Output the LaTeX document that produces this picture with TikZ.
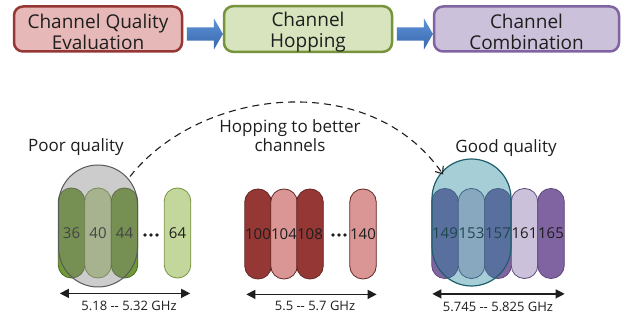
\documentclass[tikz,border=0pt]{standalone}
\usepackage{fontspec}
\setmainfont{Open Sans}
\usetikzlibrary{arrows.meta,shapes.arrows,calc}

\definecolor{txt}{HTML}{1E1E1E}
\definecolor{redbox}{HTML}{E6B9B8}
\definecolor{redline}{HTML}{953735}
\definecolor{greenbox}{HTML}{D7E4BD}
\definecolor{greenline}{HTML}{77933C}
\definecolor{purplebox}{HTML}{CCC1DA}
\definecolor{purpleline}{HTML}{8064A2}
\definecolor{arrtop}{HTML}{5E93D6}
\definecolor{arrbot}{HTML}{3866AE}
\definecolor{gdark}{HTML}{709A35}
\definecolor{glight}{HTML}{C3D69B}
\definecolor{gedge}{HTML}{4F6228}
\definecolor{rdark}{HTML}{953735}
\definecolor{rlight}{HTML}{D99694}
\definecolor{redge}{HTML}{632523}
\definecolor{pdark}{HTML}{8064A2}
\definecolor{plight}{HTML}{CCC1DA}
\definecolor{pedge}{HTML}{5F497A}
\definecolor{grayveil}{HTML}{7F7F7F}
\definecolor{grayedge}{HTML}{595959}
\definecolor{tealveil}{HTML}{208498}
\definecolor{tealedge}{HTML}{1F5F6B}

\newcommand{\dd}{-{}-}

\begin{document}
\begin{tikzpicture}[x=1pt,y=-1pt,
  topbox/.style={draw, line width=2.5pt, rounded corners=9pt, minimum height=45pt,
    inner sep=0pt, align=center, text=txt, font=\fontsize{19}{21}\selectfont},
  flowarrow/.style={single arrow, draw=none, minimum height=36pt,
    inner xsep=0pt, inner ysep=6.5pt,
    single arrow head extend=9pt, single arrow tip angle=120,
    top color=arrtop, bottom color=arrbot},
  pill/.style={draw, line width=0.8pt, rounded corners=13pt, minimum width=26.5pt,
    minimum height=90pt, inner sep=0pt, text=txt, font=\fontsize{15}{15}\selectfont},
  gpillD/.style={pill, fill=gdark, draw=gedge},
  gpillL/.style={pill, fill=glight, draw=greenline},
  rpillD/.style={pill, fill=rdark, draw=redge},
  rpillL/.style={pill, fill=rlight, draw=redge},
  ppillD/.style={pill, fill=pdark, draw=pedge},
  ppillL/.style={pill, fill=plight, draw=pedge},
  veil/.style={rounded corners=39.5pt, minimum width=79pt, inner sep=0pt},
  lbl/.style={text=txt, align=center, inner sep=0pt, font=\fontsize{17}{19}\selectfont},
  freq/.style={text=txt, inner sep=0pt, font=\fontsize{13}{13}\selectfont},
  span/.style={{Triangle[length=9pt,width=9pt]}-{Triangle[length=9pt,width=9pt]}, line width=1.3pt, txt},
  dot/.style={fill=txt}
]
\useasboundingbox (0,0) rectangle (630,320);

% process flow along the top
\node[topbox, fill=redbox, draw=redline, minimum width=168pt] (b1) at (98,29)
  {\rule{0pt}{20pt}Channel Quality\\Evaluation};
\node[topbox, fill=greenbox, draw=greenline, minimum width=168pt] (b2) at (308,29)
  {\rule{0pt}{20pt}Channel\\Hopping};
\node[topbox, fill=purplebox, draw=purpleline, minimum width=185pt] (b3) at (526.5,29)
  {\rule{0pt}{20pt}Channel\\Combination};
\node[flowarrow] (a1) at ($(b1.east)!0.5!(b2.west)+(0,5)$) {};
\node[flowarrow] (a2) at ($(b2.east)!0.5!(b3.west)+(0,5)$) {};

% 5.18 -- 5.32 GHz band
\node[gpillD] (p36) at (71.5,233) {36};
\node[gpillL] (p40) at (98,233) {40};
\node[gpillD] (p44) at (124.5,233) {44};
\node[gpillL] (p64) at (177.5,233) {64};
\fill[dot] (145,235) circle (1.8) (151,235) circle (1.8) (157,235) circle (1.8);
\node[veil, minimum height=122pt, fill=grayveil, fill opacity=0.4, draw=grayedge,
  line width=1pt] (poor) at (98,226) {};

% 5.5 -- 5.7 GHz band
\node[rpillD] (p100) at (258,234) {100};
\node[rpillL] (p104) at (284,234) {104};
\node[rpillD] (p108) at (310,234) {108};
\node[rpillL] (p140) at (363,234) {140};
\fill[dot] (333,235) circle (1.8) (339,235) circle (1.8) (345,235) circle (1.8);

% 5.745 -- 5.825 GHz band
\node[ppillD] (p149) at (445,233.5) {149};
\node[ppillL] (p153) at (471.5,233.5) {153};
\node[ppillD] (p157) at (498,233.5) {157};
\node[ppillL] (p161) at (524.5,233.5) {161};
\node[ppillD] (p165) at (551,233.5) {165};
\node[veil, minimum height=127pt, fill=tealveil, fill opacity=0.4, draw=tealedge,
  line width=1.2pt] (good) at (471.5,222.5) {};

% labels
\node[lbl] (poorlbl) at (76,147) {Poor quality};
\node[lbl] (goodlbl) at (506,148) {Good quality};
\node[lbl] (hoplbl) at (290,136) {Hopping to better\\channels};

% hop from the poor channels to the good ones
\draw[dash pattern=on 7pt off 5pt, line width=1.1pt, txt,
  -{Straight Barb[length=6pt,width=10pt]}]
  ($(poor.north)+(32,12)$) .. controls (200,88) and (370,68) .. ($(good.north)+(-28.5,16)$);

% band spans
\draw[span] ($(p36.south west)+(2,15)$) -- ($(p64.south east)+(-1,15)$);
\draw[span] ($(p100.south west)+(2,15)$) -- ($(p140.south east)+(0,15)$);
\draw[span] ($(p149.south west)+(1,15)$) -- ($(p165.south east)+(0,15)$);
\node[freq] (f1) at (129,306) {5.18 \dd{} 5.32 GHz};
\node[freq] (f2) at (315,306) {5.5 \dd{} 5.7 GHz};
\node[freq] (f3) at (498,307) {5.745 \dd{} 5.825 GHz};
\end{tikzpicture}
\end{document}
